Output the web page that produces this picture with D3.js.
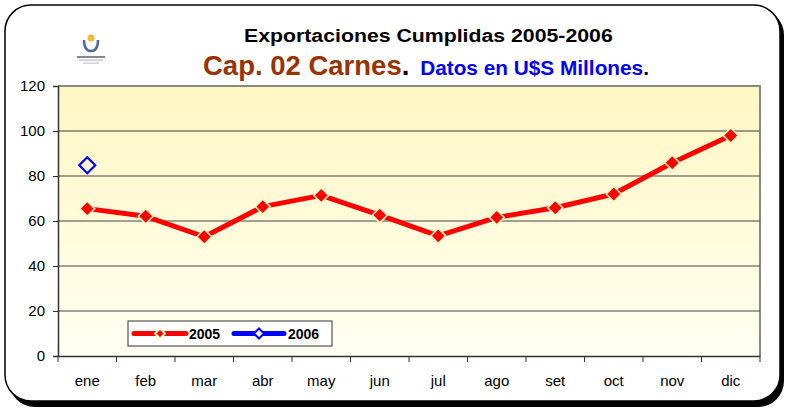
<!DOCTYPE html>
<html><head><meta charset="utf-8">
<script src="https://cdn.jsdelivr.net/npm/d3@7"></script>
<style>body{margin:0;background:#fff}svg{display:block}text{font-family:Arial,"Liberation Sans",sans-serif}</style>
</head><body>
<svg id="c" width="788" height="412"></svg>
<script>
const months = ["ene","feb","mar","abr","may","jun","jul","ago","set","oct","nov","dic"];
const values2005 = [65.5, 62.1, 53.0, 66.4, 71.4, 62.6, 53.4, 61.6, 65.9, 72.0, 85.9, 98.0];
const values2006 = [84.8];
const yTicks = [0, 20, 40, 60, 80, 100, 120];
const seriesNames = ["2005", "2006"];

const svg = d3.select("#c");
const defs = svg.append("defs");
const g1 = defs.append("linearGradient").attr("id","bg").attr("x1",0).attr("y1",0).attr("x2",0).attr("y2",1);
g1.append("stop").attr("offset","0%").attr("stop-color","#FFF7C2");
g1.append("stop").attr("offset","100%").attr("stop-color","#FFFFF2");

// outer frame with shadow
svg.append("rect").attr("x",9).attr("y",9).attr("width",775).attr("height",398).attr("rx",26).attr("fill","#000");
svg.append("rect").attr("x",5).attr("y",5).attr("width",775).attr("height",396).attr("rx",26).attr("fill","#fff").attr("stroke","#000").attr("stroke-width",1.5);

const m = {l:58, r:760, t:86, b:356};
const x = d3.scaleBand().domain(months).range([m.l, m.r]);
const y = d3.scaleLinear().domain([0,120]).range([m.b, m.t]);

// plot background
svg.append("rect").attr("x",m.l).attr("y",m.t).attr("width",m.r-m.l).attr("height",m.b-m.t).attr("fill","url(#bg)");
svg.append("path").attr("d",`M${m.l},${m.t}H${m.r}V${m.b}`).attr("fill","none").attr("stroke","#888").attr("stroke-width",2);

// gridlines
svg.append("g").selectAll("line").data(yTicks.filter(d=>d>0 && d<120)).join("line")
  .attr("x1",m.l).attr("x2",m.r).attr("y1",d=>y(d)).attr("y2",d=>y(d))
  .attr("stroke",(d)=>d===100?"#7a7a6a":"#444").attr("stroke-width",d=>d===100?1.6:1);

// y axis
const ya = svg.append("g").attr("transform",`translate(${m.l},0)`)
  .call(d3.axisLeft(y).tickValues(yTicks).tickSize(5).tickPadding(8).tickFormat(d3.format("d")));
ya.select(".domain").attr("stroke","#333").attr("stroke-width",1.5);
ya.selectAll(".tick line").attr("stroke","#333");
ya.selectAll("text").attr("font-size",15).attr("fill","#000").attr("font-family","Arial, Liberation Sans, sans-serif");

// x axis
const xa = svg.append("g").attr("transform",`translate(0,${m.b})`)
  .call(d3.axisBottom(x).tickSize(0).tickPadding(19));
xa.select(".domain").attr("stroke","#333").attr("stroke-width",1.5);
xa.selectAll("text").attr("font-size",15).attr("fill","#000").attr("font-family","Arial, Liberation Sans, sans-serif");
svg.append("g").selectAll("line").data(months.map((d,i)=>i).concat([12])).join("line")
  .attr("x1",i=>m.l+i*x.step()).attr("x2",i=>m.l+i*x.step())
  .attr("y1",m.b).attr("y2",m.b+6).attr("stroke","#333");

const cx = d => x(d)+x.bandwidth()/2;
const diamond = (s) => `M0,${-s}L${s},0L0,${s}L${-s},0Z`;

// 2005 line
const line = d3.line().x((d,i)=>cx(months[i])).y(d=>y(d));
svg.append("path").datum(values2005).attr("d",line).attr("fill","none").attr("stroke","#FF0000").attr("stroke-width",5).attr("stroke-linejoin","round");
svg.append("g").selectAll("path").data(values2005).join("path")
  .attr("transform",(d,i)=>`translate(${cx(months[i])},${y(d)})`)
  .attr("d",diamond(7.5)).attr("fill","#FF0000").attr("stroke","#FFF4C0").attr("stroke-width",1.5);

// 2006
svg.append("g").selectAll("path").data(values2006).join("path")
  .attr("transform",(d,i)=>`translate(${cx(months[i])},${y(d)})`)
  .attr("d",diamond(8)).attr("fill","none").attr("stroke","#0000FF").attr("stroke-width",2.2);

// legend
const lg = svg.append("g");
lg.append("rect").attr("x",128).attr("y",321).attr("width",204).attr("height",25).attr("fill","#fff").attr("stroke","#333").attr("stroke-width",1);
const ly = 333.5;
lg.append("line").attr("x1",134).attr("x2",186).attr("y1",ly).attr("y2",ly).attr("stroke","#FF0000").attr("stroke-width",5).attr("stroke-linecap","round");
lg.append("path").attr("transform",`translate(160,${ly})`).attr("d",diamond(5)).attr("fill","#FF0000").attr("stroke","#FFF4C0").attr("stroke-width",2);
lg.append("text").attr("x",189).attr("y",ly+5).attr("font-size",14).attr("font-weight","bold").text(seriesNames[0]);
lg.append("line").attr("x1",234).attr("x2",284).attr("y1",ly).attr("y2",ly).attr("stroke","#0000FF").attr("stroke-width",5).attr("stroke-linecap","round");
lg.append("path").attr("transform",`translate(259,${ly})`).attr("d",diamond(5)).attr("fill","#fff").attr("stroke","#0000FF").attr("stroke-width",2);
lg.append("text").attr("x",288).attr("y",ly+5).attr("font-size",14).attr("font-weight","bold").text(seriesNames[1]);

// titles
svg.append("text").attr("transform","translate(244,42) scale(1.12,1)").attr("font-size",19).attr("font-weight","bold").attr("fill","#000")
  .text("Exportaciones Cumplidas 2005-2006");
const t2 = svg.append("text").attr("x",203).attr("y",75).attr("font-weight","bold");
t2.append("tspan").attr("font-size",27.5).attr("fill","#993300").text("Cap. 02 Carnes");
t2.append("tspan").attr("font-size",27.5).attr("fill","#000").text(".");
t2.append("tspan").attr("font-size",20.8).attr("fill","#0000FF").attr("dx",5).text(" Datos en U$S Millones");
t2.append("tspan").attr("font-size",20.8).attr("fill","#000").text(".");

// logo
const lo = svg.append("g").attr("transform","translate(91,0)");
lo.append("circle").attr("cx",0).attr("cy",38).attr("r",3.5).attr("fill","#F2B225").attr("opacity",0.9);
lo.append("path").attr("d","M-7,40 Q-7,51 0,51 Q7,51 7,40").attr("fill","none").attr("stroke","#2A4F9F").attr("stroke-width",2.5).attr("opacity",0.85);
lo.append("rect").attr("x",-14).attr("y",56).attr("width",28).attr("height",2).attr("fill","#556").attr("opacity",0.7);
lo.append("rect").attr("x",-12).attr("y",59.5).attr("width",24).attr("height",1.2).attr("fill","#889").attr("opacity",0.6);
lo.append("rect").attr("x",-8).attr("y",62.5).attr("width",16).attr("height",1.2).attr("fill","#99a").attr("opacity",0.6);
</script>
</body></html>
